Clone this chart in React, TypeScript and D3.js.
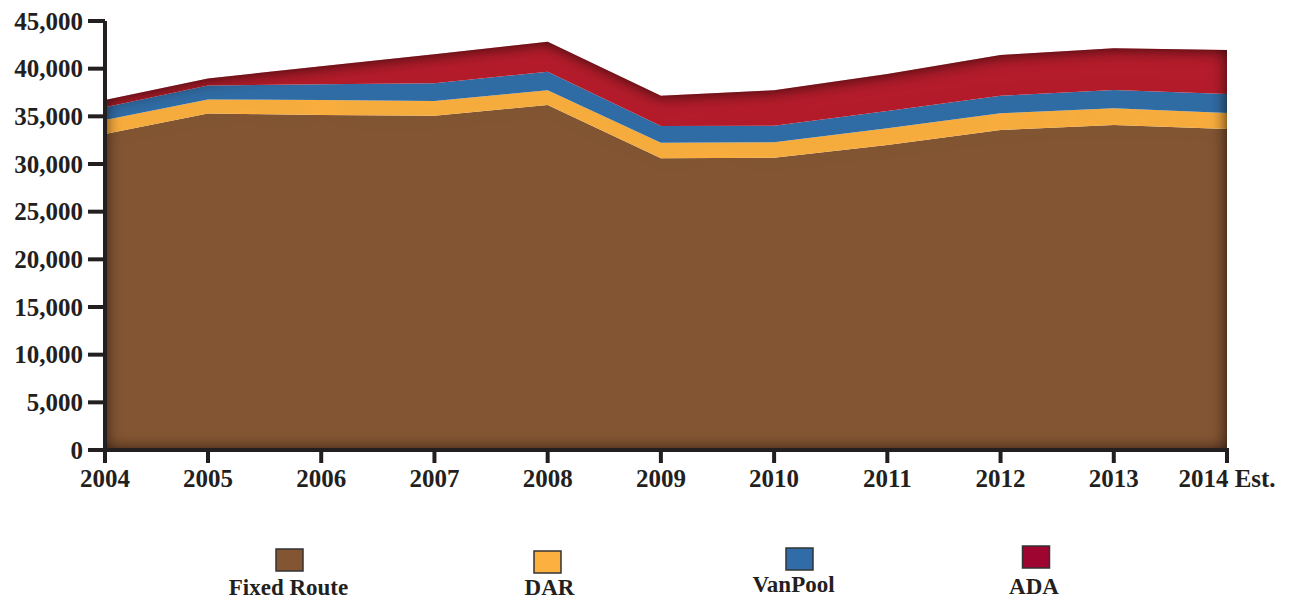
import React from "react";
import * as d3 from "d3";

const years = ["2004", "2005", "2006", "2007", "2008", "2009", "2010", "2011", "2012", "2013", "2014 Est."];
const fixedRoute = [33150, 35300, 35150, 35070, 36190, 30600, 30660, 31990, 33570, 34090, 33670];
const dar = [1470, 1470, 1560, 1540, 1540, 1630, 1610, 1760, 1750, 1750, 1680];
const vanPool = [1335, 1460, 1650, 1850, 1950, 1755, 1750, 1810, 1840, 1920, 1990];
const ada = [760, 740, 1900, 3040, 3150, 3170, 3710, 3880, 4270, 4370, 4620];
const seriesNames = ["Fixed Route", "DAR", "VanPool", "ADA"];
const yTicks = [0, 5000, 10000, 15000, 20000, 25000, 30000, 35000, 40000, 45000];

const areaColors = ["#835533", "#F9AE3E", "#306DA6", "#B51C2B"];
const legendColors = ["#835533", "#FBB040", "#306CA8", "#9E0530"];
// legend layout (square centre x, square top, label baseline)
const legendLayout = [
  { cx: 289.5, top: 549, base: 595 },
  { cx: 547.5, top: 551, base: 595 },
  { cx: 799.5, top: 548, base: 592 },
  { cx: 1036, top: 546, base: 594 },
];
const labelCx = [288.5, 549.5, 793.5, 1034];

const W = 1293;
const H = 601;
const FONT = "'Liberation Serif', 'Times New Roman', serif";

export default function App() {
  const rows = years.map((y, i) => ({
    i,
    "Fixed Route": fixedRoute[i],
    DAR: dar[i],
    VanPool: vanPool[i],
    ADA: ada[i],
  }));
  const stack = d3.stack<any>().keys(seriesNames);
  const layers = stack(rows);

  const x = d3.scaleLinear().domain([0, 1, years.length - 1]).range([105, 208, 1227]);
  const y = d3.scaleLinear().domain([0, 45000]).range([450, 21]);

  const area = d3
    .area<any>()
    .x((d: any) => x(d.data.i))
    .y0((d: any) => y(d[0]))
    .y1((d: any) => y(d[1]));

  const fmt = d3.format(",");
  const axisColor = "#231F20";

  return (
    <svg
      width={W}
      height={H}
      style={{ position: "absolute", left: 0, top: 0, display: "block" }}
    >
      <defs>
        <filter
          id="innerShadow"
          x="-5%"
          y="-10%"
          width="110%"
          height="120%"
          colorInterpolationFilters="sRGB"
        >
          <feGaussianBlur in="SourceAlpha" stdDeviation="8" result="blur" />
          <feComposite in="SourceAlpha" in2="blur" operator="out" result="edge" />
          <feFlood floodColor="#120604" floodOpacity="0.85" result="col" />
          <feComposite in="col" in2="edge" operator="in" result="shadow" />
          <feMerge>
            <feMergeNode in="SourceGraphic" />
            <feMergeNode in="shadow" />
          </feMerge>
        </filter>
      </defs>
      <rect x={0} y={0} width={W} height={H} fill="#fff" />
      <g filter="url(#innerShadow)">
        {layers.map((layer, k) => (
          <path key={k} d={area(layer as any) || ""} fill={areaColors[k]} />
        ))}
      </g>

      {/* y axis */}
      <line x1={105} x2={105} y1={y(45000)} y2={y(0) + 2} stroke={axisColor} strokeWidth={4} />
      {yTicks.map((t) => (
        <g key={t}>
          <line x1={88} x2={105} y1={y(t)} y2={y(t)} stroke={axisColor} strokeWidth={4} />
          <text
            x={83}
            y={y(t) + 8.5}
            textAnchor="end"
            fontFamily={FONT}
            fontWeight="bold"
            fontSize={25}
            fill={axisColor}
          >
            {fmt(t)}
          </text>
        </g>
      ))}

      {/* x axis */}
      <line x1={103} x2={x(years.length - 1) + 2} y1={450} y2={450} stroke={axisColor} strokeWidth={4} />
      {years.map((yr, i) => (
        <g key={yr}>
          <line x1={x(i)} x2={x(i)} y1={450} y2={463} stroke={axisColor} strokeWidth={4} />
          <text
            x={x(i)}
            y={487}
            textAnchor="middle"
            fontFamily={FONT}
            fontWeight="bold"
            fontSize={25}
            fill={axisColor}
          >
            {yr}
          </text>
        </g>
      ))}

      {/* legend */}
      {seriesNames.map((name, k) => (
        <g key={name}>
          <rect
            x={legendLayout[k].cx - 13.5}
            y={legendLayout[k].top}
            width={27}
            height={22}
            fill={legendColors[k]}
            stroke="#333"
            strokeWidth={1.5}
          />
          <text
            x={labelCx[k]}
            y={legendLayout[k].base}
            textAnchor="middle"
            fontFamily={FONT}
            fontWeight="bold"
            fontSize={23}
            fill={axisColor}
          >
            {name}
          </text>
        </g>
      ))}
    </svg>
  );
}
